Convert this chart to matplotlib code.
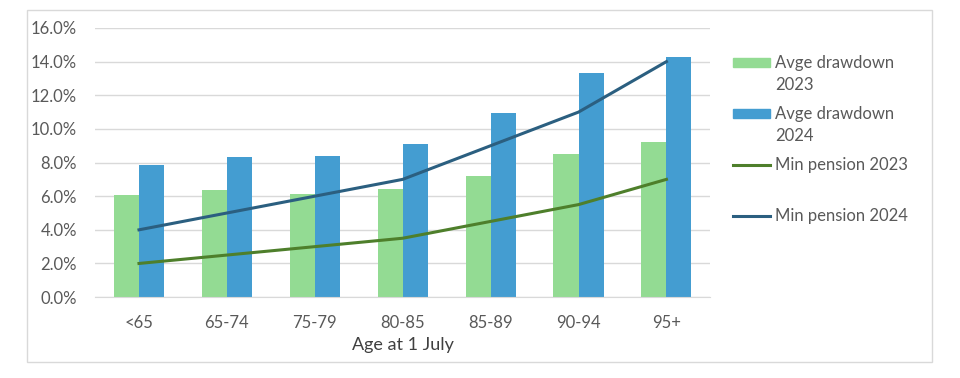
import numpy as np
import matplotlib
matplotlib.use("Agg")
import matplotlib.pyplot as plt
from matplotlib.patches import Rectangle
from matplotlib.lines import Line2D
from matplotlib.ticker import FuncFormatter

# data
ages = ["<65", "65-74", "75-79", "80-85", "85-89", "90-94", "95+"]
drawdown_2023 = [6.07, 6.37, 6.13, 6.43, 7.22, 8.53, 9.23]
drawdown_2024 = [7.86, 8.35, 8.39, 9.10, 10.93, 13.31, 14.30]
min_pension_2023 = [2.0, 2.5, 3.0, 3.5, 4.5, 5.5, 7.0]
min_pension_2024 = [4.0, 5.0, 6.0, 7.0, 9.0, 11.0, 14.0]

green_bar = "#93DB93"
blue_bar = "#449DD1"
green_line = "#4E7F2B"
blue_line = "#2B5F80"
grid_col = "#D9D9D9"
text_col = "#595959"

plt.rcParams['font.family'] = ['Lato', 'DejaVu Sans']

fig = plt.figure(figsize=(9.6, 3.78), dpi=100)

# outer chart border
fig.patches.append(Rectangle((0.028, 0.042), 0.943, 0.932, transform=fig.transFigure,
                             fill=False, edgecolor="#D9D9D9", linewidth=1.0))

ax = fig.add_axes([0.099, 0.214, 0.641, 0.712])

x = np.arange(len(ages))
w = 0.285
ax.bar(x - w / 2, drawdown_2023, w, color=green_bar, zorder=2)
ax.bar(x + w / 2, drawdown_2024, w, color=blue_bar, zorder=2)
ax.plot(x, min_pension_2023, color=green_line, linewidth=2.2, zorder=3)
ax.plot(x, min_pension_2024, color=blue_line, linewidth=2.2, zorder=3)

ax.set_xlim(-0.5, len(ages) - 0.5)
ax.set_ylim(0, 16)
ax.set_yticks(np.arange(0, 17, 2))
ax.yaxis.set_major_formatter(FuncFormatter(lambda v, p: f"{v:.1f}%"))
ax.set_xticks(x)
ax.set_xticklabels(ages)
ax.grid(axis="y", color=grid_col, linewidth=1.0, zorder=0)
ax.set_axisbelow(True)
for s in ["top", "right", "left"]:
    ax.spines[s].set_visible(False)
ax.spines["bottom"].set_color(grid_col)
ax.tick_params(axis="both", length=0, labelsize=12, labelcolor=text_col)
ax.tick_params(axis="y", pad=13)
ax.tick_params(axis="x", pad=13)
ax.set_xlabel("Age at 1 July", fontsize=13, color="#404040", labelpad=4)

# legend drawn by hand to match the wrapped layout
def fy(py):
    return 1 - py / 378

lx0, lx1, tx = 733 / 960, 770 / 960, 775 / 960
fig.patches.append(Rectangle((lx0, fy(67)), lx1 - lx0, 9 / 378, transform=fig.transFigure,
                             color=green_bar))
fig.patches.append(Rectangle((lx0, fy(118)), lx1 - lx0, 9 / 378, transform=fig.transFigure,
                             color=blue_bar))
fig.lines.append(Line2D([lx0, lx1], [fy(165), fy(165)], transform=fig.transFigure,
                        color=green_line, linewidth=2.2))
fig.lines.append(Line2D([lx0, lx1], [fy(216), fy(216)], transform=fig.transFigure,
                        color=blue_line, linewidth=2.2))
leg_texts = [("Avge drawdown", 63), ("2023", 85), ("Avge drawdown", 114), ("2024", 136),
             ("Min pension 2023", 165), ("Min pension 2024", 216)]
for t, py in leg_texts:
    fig.text(tx, fy(py), t, fontsize=12, color=text_col, va="center", ha="left")

fig.savefig("out.png", dpi=100)
